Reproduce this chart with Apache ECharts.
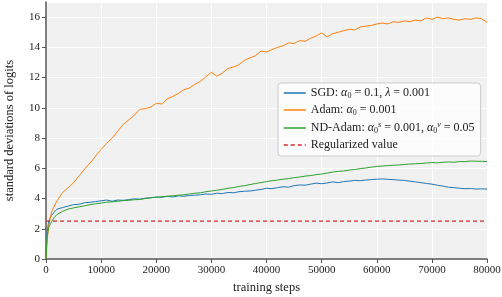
<!DOCTYPE html>
<html>
<head>
<meta charset="utf-8">
<script src="https://cdn.jsdelivr.net/npm/echarts@6/dist/echarts.min.js"></script>
<style>
  html, body { margin: 0; padding: 0; background: #fff; }
  #chart { width: 502px; height: 297px; }
</style>
</head>
<body>
<div id="chart"></div>
<script>
// training steps where values were read
const steps = [0, 200, 500, 1000, 1500, 2000,
  3000, 4000, 5000, 6000, 7000, 8000, 9000, 10000,
  11000, 12000, 13000, 14000, 15000, 16000, 17000, 18000, 19000, 20000,
  21000, 22000, 23000, 24000, 25000, 26000, 27000, 28000, 29000, 30000,
  31000, 32000, 33000, 34000, 35000, 36000, 37000, 38000, 39000, 40000,
  41000, 42000, 43000, 44000, 45000, 46000, 47000, 48000, 49000, 50000,
  51000, 52000, 53000, 54000, 55000, 56000, 57000, 58000, 59000, 60000,
  61000, 62000, 63000, 64000, 65000, 66000, 67000, 68000, 69000, 70000,
  71000, 72000, 73000, 74000, 75000, 76000, 77000, 78000, 79000, 80000];

const sgd = [0, 1.8, 2.5, 2.9, 3.1, 3.3,
  3.4, 3.5, 3.6, 3.62, 3.72, 3.75, 3.8, 3.85,
  3.9, 3.82, 3.9, 3.88, 3.93, 3.98, 3.96, 4.02, 4.05, 4.1,
  4.08, 4.15, 4.1, 4.18, 4.15, 4.2, 4.22, 4.25, 4.3, 4.28,
  4.35, 4.33, 4.4, 4.38, 4.45, 4.48, 4.5, 4.55, 4.6, 4.68,
  4.65, 4.72, 4.78, 4.75, 4.85, 4.9, 4.88, 4.95, 5.02, 4.98,
  5.03, 5.1, 5.05, 5.12, 5.15, 5.2, 5.18, 5.22, 5.25, 5.28,
  5.3, 5.27, 5.25, 5.22, 5.2, 5.15, 5.1, 5.05, 5.0, 4.95,
  4.88, 4.82, 4.75, 4.72, 4.68, 4.65, 4.66, 4.63, 4.64, 4.62];

const adam = [0, 1.2, 2.2, 3.1, 3.5, 3.85,
  4.4, 4.7, 5.05, 5.5, 5.95, 6.35, 6.8, 7.25,
  7.65, 8.0, 8.45, 8.9, 9.2, 9.5, 9.9, 9.95, 10.05, 10.3,
  10.25, 10.6, 10.75, 10.95, 11.2, 11.3, 11.55, 11.75, 12.05, 12.35,
  12.1, 12.3, 12.6, 12.7, 12.85, 13.15, 13.3, 13.45, 13.75, 13.7,
  13.85, 14.0, 14.1, 14.3, 14.25, 14.45, 14.4, 14.6, 14.75, 14.95,
  14.7, 14.9, 15.0, 15.1, 15.2, 15.15, 15.35, 15.4, 15.45, 15.55,
  15.6, 15.55, 15.7, 15.65, 15.75, 15.7, 15.8, 15.75, 15.95, 15.85,
  16.0, 15.9, 15.95, 15.85, 15.8, 15.9, 15.85, 15.95, 15.9, 15.65];

const ndAdam = [0, 1.5, 2.1, 2.45, 2.75, 2.95,
  3.15, 3.3, 3.38, 3.45, 3.52, 3.6, 3.65, 3.7,
  3.76, 3.78, 3.82, 3.86, 3.88, 3.92, 3.94, 4.0, 4.05, 4.08,
  4.12, 4.15, 4.18, 4.22, 4.25, 4.3, 4.35, 4.38, 4.45, 4.5,
  4.55, 4.6, 4.68, 4.72, 4.8, 4.85, 4.92, 5.0, 5.05, 5.12,
  5.18, 5.22, 5.28, 5.32, 5.38, 5.42, 5.48, 5.52, 5.58, 5.62,
  5.68, 5.75, 5.8, 5.82, 5.88, 5.92, 5.98, 6.02, 6.08, 6.12,
  6.15, 6.18, 6.2, 6.22, 6.25, 6.28, 6.3, 6.32, 6.35, 6.38,
  6.36, 6.4, 6.42, 6.4, 6.45, 6.44, 6.48, 6.47, 6.46, 6.45];

const regSteps = [0, 80000];
const regValue = [2.5, 2.5];

const names = ['SGD', 'Adam', 'ND-Adam', 'Regularized value'];
const labels = {
  'SGD': '{n|SGD: }{i|α}{s|0}{n| = 0.1, }{i|λ}{n| = 0.001}',
  'Adam': '{n|Adam: }{i|α}{s|0}{n| = 0.001}',
  'ND-Adam': '{n|ND-Adam: }{i|α}{s|0}{u|s}{n| = 0.001, }{i|α}{s|0}{u|v}{n| = 0.05}',
  'Regularized value': '{n|Regularized value}'
};

const zip = (xs, ys) => xs.map((x, i) => [x, ys[i]]);
const font = 'Liberation Serif';

const chart = echarts.init(document.getElementById('chart'));

const lineSeries = (name, xs, ys, color, dashed) => ({
  name: name,
  type: 'line',
  data: zip(xs, ys),
  showSymbol: false,
  symbol: 'none',
  animation: false,
  lineStyle: { color: color, width: dashed ? 1.2 : 1, type: dashed ? [4, 3] : 'solid' },
  itemStyle: { color: color }
});

const option = {
  backgroundColor: '#fff',
  animation: false,
  grid: {
    left: 46, right: 15, top: 2, bottom: 38,
    outerBoundsMode: 'none',
    containLabel: false,
    show: true, backgroundColor: '#f1f1f1', borderWidth: 0
  },
  legend: {
    data: names,
    orient: 'vertical',
    left: 278, top: 83,
    width: 204,
    padding: [4, 6, 5, 5],
    itemWidth: 22, itemHeight: 10, itemGap: 4,
    itemStyle: { opacity: 0 },
    lineStyle: { width: 1.5 },
    backgroundColor: 'rgba(255,255,255,0.8)',
    borderColor: '#cccccc', borderWidth: 1, borderRadius: 3,
    formatter: (n) => labels[n],
    textStyle: {
      fontFamily: font, fontSize: 12, color: '#222',
      rich: {
        n: { fontFamily: font, fontSize: 12, color: '#222' },
        i: { fontFamily: font, fontSize: 12, fontStyle: 'italic', color: '#222' },
        s: { fontFamily: font, fontSize: 8, color: '#222', padding: [6, 0, 0, 0] },
        u: { fontFamily: font, fontSize: 8, fontStyle: 'italic', color: '#222', padding: [0, 0, 6, 0] }
      }
    }
  },
  xAxis: {
    type: 'value', min: 0, max: 80000, interval: 10000,
    name: 'training steps', nameLocation: 'middle', nameGap: 20,
    nameTextStyle: { fontFamily: font, fontSize: 12.5, color: '#222' },
    axisLine: { show: true, lineStyle: { color: '#555', width: 1.5 } },
    axisTick: { show: true, length: 4, lineStyle: { color: '#555', width: 1 } },
    axisLabel: { fontFamily: font, fontSize: 11, color: '#222', margin: 6, formatter: (v) => String(v) },
    splitLine: { show: true, lineStyle: { color: '#fff', width: 1 } }
  },
  yAxis: {
    type: 'value', min: 0, max: 17, interval: 2,
    name: 'standard deviations of logits', nameLocation: 'middle', nameGap: 30,
    nameTextStyle: { fontFamily: font, fontSize: 12.5, color: '#222' },
    axisLine: { show: true, lineStyle: { color: '#555', width: 1.5 } },
    axisTick: { show: true, length: 4, lineStyle: { color: '#555', width: 1 } },
    axisLabel: { fontFamily: font, fontSize: 11, color: '#222', margin: 6, showMaxLabel: false },
    splitLine: { show: true, lineStyle: { color: '#fff', width: 1 } }
  },
  series: [
    lineSeries('SGD', steps, sgd, '#1f77b4', false),
    lineSeries('Adam', steps, adam, '#ff7f0e', false),
    lineSeries('ND-Adam', steps, ndAdam, '#2ca02c', false),
    lineSeries('Regularized value', regSteps, regValue, '#d62728', true)
  ]
};

chart.setOption(option);
</script>
</body>
</html>
